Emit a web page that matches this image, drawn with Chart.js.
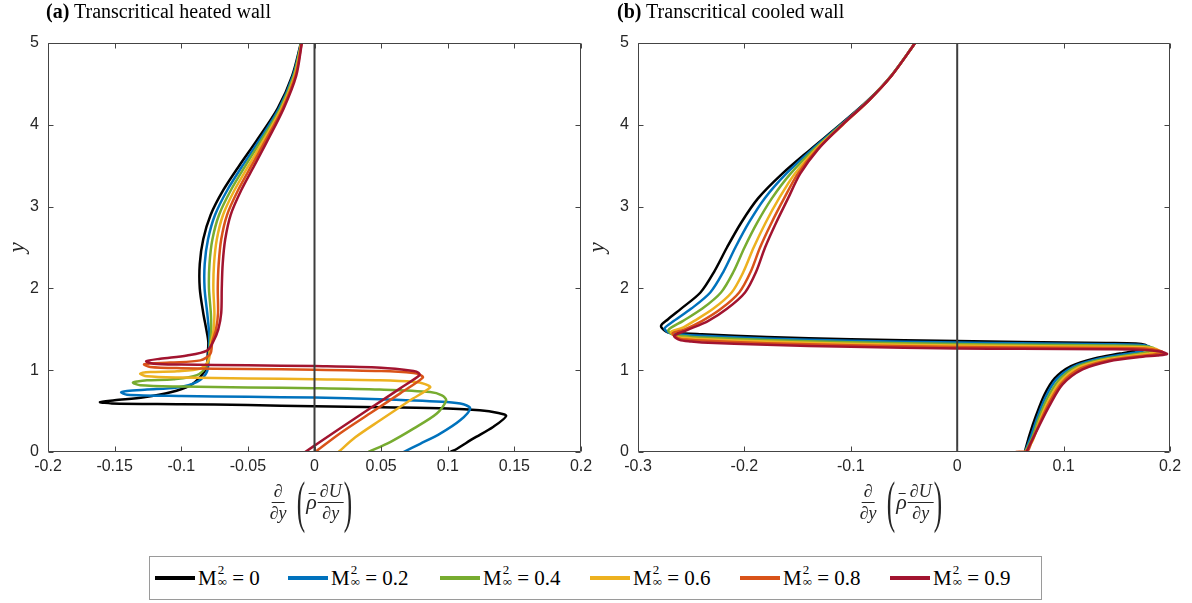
<!DOCTYPE html>
<html>
<head>
<meta charset="utf-8">
<script src="https://cdn.jsdelivr.net/npm/chart.js@4.4.1/dist/chart.umd.min.js"></script>
<style>
  body { margin: 0; background: #fff; }
  #wrap { position: relative; width: 1192px; height: 603px; overflow: hidden; font-family: "Liberation Serif", serif; }
  canvas { position: absolute; top: 0; }
  .title { position: absolute; top: 0px; font-size: 20px; color: #000; white-space: nowrap; }
  .xlab { position: absolute; top: 474px; transform: translateX(-50%); display: flex; align-items: center;
          font-family: "Liberation Serif", serif; font-style: italic; font-size: 18px; color: #262626; white-space: nowrap; }
  .frac { display: inline-flex; flex-direction: column; align-items: center; line-height: 1.05; }
  .frac .num { border-bottom: 1px solid #262626; padding: 0 2px 1px; }
  .frac .den { padding-top: 1px; }
  .paren { font-style: normal; font-weight: 300; font-size: 56px; line-height: 1; display: inline-block; transform: scaleX(0.45); margin: 0 -5px; }
  .rho { font-size: 22px; margin: 0 1px 0 1px; position: relative; }
  .rho::before { content: ""; position: absolute; left: 2px; right: 1px; top: 4px; border-top: 1px solid #262626; }
  #legend { position: absolute; left: 149px; top: 556px; width: 891px; height: 42px; border: 1px solid #9a9a9a; background: #fff; }
  .item { position: absolute; top: 0; height: 42px; display: flex; align-items: center; }
  .swatch { width: 40px; height: 4px; margin-right: 3px; }
  .lt { font-size: 21px; color: #000; display: flex; align-items: center; }
  .ss { display: inline-flex; flex-direction: column; font-size: 13px; line-height: 0.95; margin: -4px 0 0 1px; }
</style>
</head>
<body>
<div id="wrap">
  <canvas id="chartA" width="600" height="490" style="left:0px"></canvas>
  <canvas id="chartB" width="612" height="490" style="left:580px"></canvas>
  <div class="title" style="left:46px"><b>(a)</b> Transcritical heated wall</div>
  <div class="title" style="left:617px"><b>(b)</b> Transcritical cooled wall</div>
  <div class="xlab" style="left:311px">
    <span class="frac" style="margin-right:10px"><span class="num">∂</span><span class="den">∂y</span></span>
    <span class="paren">(</span>
    <span class="rho">ρ</span>
    <span class="frac"><span class="num">∂U</span><span class="den">∂y</span></span>
    <span class="paren">)</span>
  </div>
  <div class="xlab" style="left:901px">
    <span class="frac" style="margin-right:10px"><span class="num">∂</span><span class="den">∂y</span></span>
    <span class="paren">(</span>
    <span class="rho">ρ</span>
    <span class="frac"><span class="num">∂U</span><span class="den">∂y</span></span>
    <span class="paren">)</span>
  </div>
  <div id="legend"></div>
</div>
<script>
// Mach number labels (M_inf^2)
const machLabels = ['0', '0.2', '0.4', '0.6', '0.8', '0.9'];

// axis ticks
const heatedXTicks = [-0.2, -0.15, -0.1, -0.05, 0, 0.05, 0.1, 0.15, 0.2];
const cooledXTicks = [-0.3, -0.2, -0.1, 0, 0.1, 0.2];
const yTicks = [0, 1, 2, 3, 4, 5];

// vertical reference line at zero
const zeroLine = [[0, 0], [0, 5]];

// (a) heated wall, points [x, y]
const heatedM0 = [[-0.0102,5.0],[-0.0167,4.6],[-0.0276,4.2],[-0.0437,3.8],[-0.0565,3.5],[-0.0685,3.2],[-0.0779,2.9],[-0.0835,2.6],[-0.0861,2.3],[-0.0861,2.0],[-0.0835,1.7],[-0.0812,1.5],[-0.0797,1.35],[-0.0801,1.2],[-0.0808,1.04],[-0.0857,0.92],[-0.0933,0.815],[-0.108,0.73],[-0.128,0.67],[-0.150,0.632],[-0.161,0.61],[-0.152,0.594],[-0.10,0.585],[-0.05,0.574],[0,0.559],[0.05,0.546],[0.10,0.532],[0.124,0.51],[0.137,0.48],[0.1438,0.44],[0.134,0.306],[0.119,0.163],[0.107,0.04],[0.102,0]];
const heatedM02 = [[-0.0100,5],[-0.0161,4.6],[-0.0266,4.2],[-0.0419,3.8],[-0.0540,3.5],[-0.0655,3.2],[-0.0746,2.9],[-0.0799,2.6],[-0.0824,2.3],[-0.0825,2.0],[-0.0805,1.7],[-0.0793,1.5],[-0.0789,1.35],[-0.0794,1.2],[-0.0807,0.98],[-0.0882,0.856],[-0.1032,0.787],[-0.1257,0.763],[-0.1407,0.746],[-0.1452,0.73],[-0.1407,0.70],[-0.10,0.684],[-0.05,0.674],[0,0.665],[0.049,0.644],[0.0993,0.611],[0.1118,0.583],[0.1168,0.53],[0.1093,0.388],[0.0943,0.225],[0.0793,0.10],[0.0668,0]];
const heatedM04 = [[-0.0099,5],[-0.0155,4.6],[-0.0257,4.2],[-0.0403,3.8],[-0.0518,3.5],[-0.0628,3.2],[-0.0716,2.9],[-0.0766,2.6],[-0.0788,2.3],[-0.0792,2.0],[-0.0778,1.7],[-0.0775,1.5],[-0.0782,1.35],[-0.0790,1.2],[-0.0807,1.06],[-0.0882,0.94],[-0.1058,0.889],[-0.1257,0.876],[-0.133,0.862],[-0.1362,0.848],[-0.1308,0.815],[-0.10,0.80],[-0.05,0.79],[0,0.78],[0.049,0.763],[0.0868,0.733],[0.0956,0.693],[0.0988,0.632],[0.0918,0.47],[0.0743,0.286],[0.0568,0.122],[0.0405,0]];
const heatedM06 = [[-0.0098,5],[-0.0149,4.6],[-0.0248,4.2],[-0.0386,3.8],[-0.0495,3.5],[-0.0601,3.2],[-0.0686,2.9],[-0.0733,2.6],[-0.0754,2.3],[-0.0759,2.0],[-0.0751,1.7],[-0.0757,1.5],[-0.0774,1.35],[-0.0785,1.25],[-0.0795,1.12],[-0.0857,1.02],[-0.1032,0.987],[-0.1233,0.978],[-0.1308,0.958],[-0.1257,0.925],[-0.10,0.91],[-0.05,0.90],[0,0.889],[0.049,0.877],[0.0743,0.858],[0.083,0.83],[0.0868,0.79],[0.0718,0.632],[0.0493,0.388],[0.0306,0.18],[0.018,0]];
const heatedM08 = [[-0.0096,5],[-0.0143,4.6],[-0.0239,4.2],[-0.0370,3.8],[-0.0473,3.5],[-0.0574,3.2],[-0.0656,2.9],[-0.0700,2.6],[-0.0719,2.3],[-0.0726,2.0],[-0.0724,1.7],[-0.0739,1.5],[-0.0767,1.35],[-0.0782,1.2],[-0.0857,1.12],[-0.1082,1.093],[-0.1278,1.072],[-0.1233,1.04],[-0.10,1.025],[-0.05,1.015],[0,1.007],[0.05,0.99],[0.0743,0.966],[0.079,0.945],[0.0813,0.909],[0.0643,0.717],[0.0418,0.473],[0.0193,0.229],[0.0005,0]];
const heatedM09 = [[-0.0095,5],[-0.0137,4.6],[-0.0231,4.2],[-0.0355,3.8],[-0.0452,3.5],[-0.0550,3.2],[-0.0629,2.9],[-0.0670,2.6],[-0.0689,2.3],[-0.0696,2.0],[-0.0700,1.7],[-0.0722,1.5],[-0.0760,1.35],[-0.0807,1.24],[-0.0957,1.18],[-0.1158,1.14],[-0.1263,1.11],[-0.1208,1.08],[-0.10,1.07],[-0.05,1.06],[0,1.05],[0.05,1.03],[0.0743,0.99],[0.078,0.97],[0.0788,0.938],[0.0643,0.778],[0.0418,0.534],[0.0193,0.29],[0.0043,0.125],[-0.007,0]];

// (b) cooled wall, points [x, y]
const cooledM0 = [[-0.0395,5],[-0.062,4.6],[-0.0837,4.3],[-0.1101,4.0],[-0.1378,3.7],[-0.1646,3.4],[-0.1872,3.1],[-0.2032,2.8],[-0.2164,2.5],[-0.2286,2.2],[-0.2413,1.95],[-0.2597,1.75],[-0.272,1.62],[-0.2784,1.54],[-0.2731,1.47],[-0.2634,1.455],[-0.24,1.44],[-0.179,1.406],[-0.1,1.378],[0,1.357],[0.06,1.345],[0.14,1.333],[0.168,1.327],[0.177,1.31],[0.178,1.287],[0.165,1.232],[0.153,1.203],[0.129,1.145],[0.107,1.05],[0.0916,0.90],[0.082,0.70],[0.0744,0.455],[0.068,0.21],[0.0635,0]];
const cooledM02 = [[-0.0395,5],[-0.062,4.6],[-0.0835,4.3],[-0.1094,4.0],[-0.1363,3.7],[-0.1609,3.4],[-0.1810,3.1],[-0.1960,2.8],[-0.2085,2.5],[-0.2199,2.2],[-0.2321,1.95],[-0.2502,1.75],[-0.2665,1.6],[-0.275,1.51],[-0.2695,1.45],[-0.26,1.435],[-0.24,1.42],[-0.179,1.388],[-0.1,1.36],[0,1.339],[0.06,1.329],[0.14,1.318],[0.170,1.311],[0.180,1.293],[0.182,1.269],[0.170,1.222],[0.157,1.195],[0.132,1.138],[0.109,1.042],[0.093,0.885],[0.083,0.67],[0.0755,0.43],[0.0695,0.2],[0.0637,0]];
const cooledM04 = [[-0.0395,5],[-0.0619,4.6],[-0.0832,4.3],[-0.1087,4.0],[-0.1346,3.7],[-0.1568,3.4],[-0.1742,3.1],[-0.1881,2.8],[-0.1999,2.5],[-0.2104,2.2],[-0.2220,1.95],[-0.2398,1.75],[-0.2580,1.6],[-0.2715,1.49],[-0.2665,1.43],[-0.255,1.415],[-0.24,1.40],[-0.179,1.37],[-0.1,1.342],[0,1.32],[0.06,1.312],[0.14,1.302],[0.172,1.295],[0.184,1.276],[0.1858,1.251],[0.175,1.212],[0.162,1.187],[0.135,1.131],[0.111,1.034],[0.095,0.87],[0.0843,0.645],[0.0765,0.405],[0.0705,0.175],[0.0639,0]];
const cooledM06 = [[-0.0395,5],[-0.0618,4.6],[-0.0830,4.3],[-0.1080,4.0],[-0.1329,3.7],[-0.1528,3.4],[-0.1675,3.1],[-0.1802,2.8],[-0.1913,2.5],[-0.2010,2.2],[-0.2120,1.95],[-0.2294,1.75],[-0.2475,1.6],[-0.2580,1.52],[-0.269,1.47],[-0.264,1.41],[-0.253,1.393],[-0.24,1.38],[-0.179,1.35],[-0.1,1.324],[0,1.302],[0.06,1.295],[0.14,1.287],[0.174,1.28],[0.187,1.259],[0.1895,1.233],[0.179,1.201],[0.166,1.18],[0.138,1.124],[0.113,1.026],[0.0965,0.855],[0.0853,0.615],[0.0773,0.375],[0.071,0.14],[0.0642,0]];
const cooledM08 = [[-0.0395,5],[-0.0617,4.6],[-0.0829,4.3],[-0.1075,4.0],[-0.1317,3.7],[-0.1499,3.4],[-0.1627,3.1],[-0.1746,2.8],[-0.1853,2.5],[-0.1942,2.2],[-0.2049,1.95],[-0.2220,1.75],[-0.2400,1.6],[-0.256,1.5],[-0.2675,1.45],[-0.262,1.39],[-0.252,1.373],[-0.24,1.362],[-0.179,1.331],[-0.1,1.305],[0,1.284],[0.06,1.278],[0.14,1.271],[0.176,1.264],[0.1895,1.242],[0.1935,1.215],[0.184,1.19],[0.170,1.172],[0.1405,1.117],[0.1155,1.018],[0.098,0.84],[0.086,0.59],[0.0772,0.345],[0.0695,0.11],[0.066,0.01],[0.055,0]];
const cooledM09 = [[-0.0395,5],[-0.0617,4.6],[-0.0829,4.3],[-0.1082,4.0],[-0.1308,3.7],[-0.1477,3.4],[-0.1590,3.1],[-0.1703,2.8],[-0.1806,2.5],[-0.1891,2.2],[-0.1994,1.95],[-0.2164,1.75],[-0.2343,1.6],[-0.254,1.49],[-0.266,1.42],[-0.261,1.37],[-0.25,1.35],[-0.24,1.34],[-0.179,1.31],[-0.1,1.286],[0,1.265],[0.06,1.261],[0.14,1.256],[0.178,1.248],[0.192,1.225],[0.1972,1.197],[0.188,1.18],[0.1743,1.165],[0.1429,1.11],[0.1178,1.01],[0.099,0.827],[0.0865,0.56],[0.077,0.318],[0.0677,0.073],[0.065,0]];

const lineColors = ['#000000', '#0072BD', '#77AC30', '#EDB120', '#D95319', '#A2142F'];

const toXY = arr => arr.map(p => ({ x: p[0], y: p[1] }));

function buildDatasets(series) {
    const ds = series.map((s, i) => ({
        label: 'M∞² = ' + machLabels[i],
        data: toXY(s),
        borderColor: lineColors[i],
        borderWidth: 2.5,
        showLine: true,
        pointRadius: 0,
        tension: 0.3,
        order: series.length - i
    }));
    ds.push({
        label: 'zero',
        data: toXY(zeroLine),
        borderColor: '#3c3c3c',
        borderWidth: 2,
        showLine: true,
        pointRadius: 0,
        order: 0
    });
    return ds;
}

// box around plot area with inward ticks on all sides
const boxPlugin = {
    id: 'box',
    afterDatasetsDraw(chart) {
        const { ctx, chartArea: a, scales: { x, y } } = chart;
        const L = Math.round(a.left) + 0.5, R = Math.round(a.right) - 0.5;
        const T = Math.round(a.top) + 0.5, B = Math.round(a.bottom) - 0.5;
        ctx.save();
        ctx.strokeStyle = '#444';
        ctx.lineWidth = 1;
        ctx.beginPath();
        ctx.rect(L, T, R - L, B - T);
        x.ticks.forEach(t => {
            const px = Math.round(x.getPixelForValue(t.value)) + 0.5;
            ctx.moveTo(px, B); ctx.lineTo(px, B - 5);
            ctx.moveTo(px, T); ctx.lineTo(px, T + 5);
        });
        y.ticks.forEach(t => {
            const py = Math.round(y.getPixelForValue(t.value)) + 0.5;
            ctx.moveTo(L, py); ctx.lineTo(L + 5, py);
            ctx.moveTo(R, py); ctx.lineTo(R - 5, py);
        });
        ctx.stroke();
        ctx.restore();
    }
};

function makeChart(id, series, xTicks, yWidth, padRight) {
    const tickFont = { family: 'Liberation Sans', size: 16 };
    return new Chart(document.getElementById(id), {
        type: 'scatter',
        data: { datasets: buildDatasets(series) },
        options: {
            responsive: false,
            animation: false,
            layout: { padding: { top: 43, right: padRight, left: 0, bottom: 0 } },
            plugins: { legend: { display: false }, tooltip: { enabled: false } },
            scales: {
                x: {
                    type: 'linear',
                    min: xTicks[0],
                    max: xTicks[xTicks.length - 1],
                    afterBuildTicks: s => { s.ticks = xTicks.map(v => ({ value: v })); },
                    afterFit: s => { s.height = 38; },
                    grid: { display: false, drawTicks: false },
                    border: { display: false },
                    ticks: { autoSkip: false, maxRotation: 0, padding: 5, color: '#262626', font: tickFont, callback: v => String(v) }
                },
                y: {
                    type: 'linear',
                    min: 0,
                    max: 5,
                    afterBuildTicks: s => { s.ticks = yTicks.map(v => ({ value: v })); },
                    afterFit: s => { s.width = yWidth; },
                    grid: { display: false, drawTicks: false },
                    border: { display: false },
                    title: { display: true, text: 'y', color: '#262626', padding: { top: 4, bottom: 0 },
                             font: { family: 'Liberation Serif', style: 'italic', size: 23 } },
                    ticks: { padding: 9, color: '#262626', font: tickFont, callback: v => String(v) }
                }
            }
        },
        plugins: [boxPlugin]
    });
}

makeChart('chartA', [heatedM0, heatedM02, heatedM04, heatedM06, heatedM08, heatedM09], heatedXTicks, 48, 19);
makeChart('chartB', [cooledM0, cooledM02, cooledM04, cooledM06, cooledM08, cooledM09], cooledXTicks, 58, 22);

// legend
const legendStarts = [5, 138, 290, 440, 590, 740];
const legend = document.getElementById('legend');
machLabels.forEach((m, i) => {
    const item = document.createElement('div');
    item.className = 'item';
    item.style.left = legendStarts[i] + 'px';
    item.innerHTML = '<span class="swatch" style="background:' + lineColors[i] + '"></span>' +
        '<span class="lt">M<span class="ss"><span>2</span><span>∞</span></span>&nbsp;=&nbsp;' + m + '</span>';
    legend.appendChild(item);
});
</script>
</body>
</html>
